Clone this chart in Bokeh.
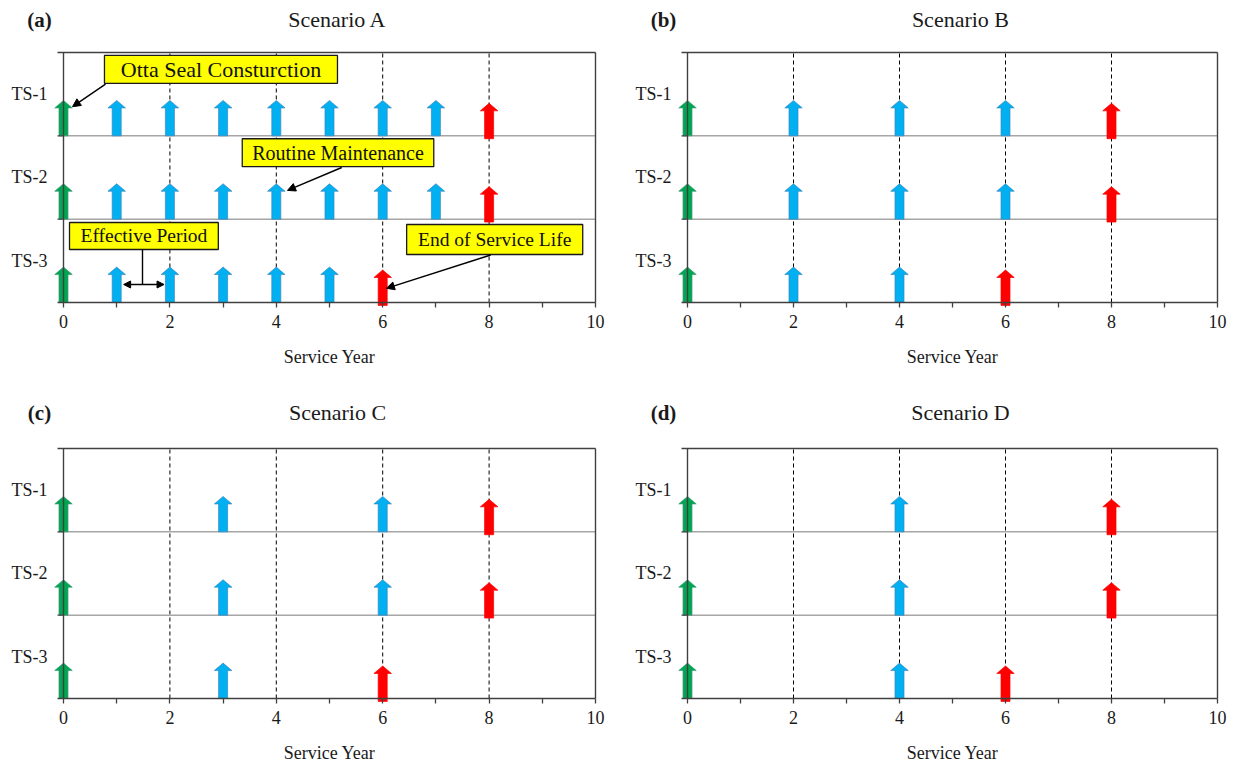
from bokeh.plotting import figure
from bokeh.layouts import gridplot
from bokeh.models import Range1d, FixedTicker, Arrow, NormalHead
from bokeh.core.properties import value
from bokeh.embed import file_html
from bokeh.resources import INLINE

# ---------------- data ----------------
row_labels = ["TS-1", "TS-2", "TS-3"]
row_base = [2, 1, 0]
label_pos = [2.5, 1.5, 0.5]
scenarios = ["Scenario A", "Scenario B", "Scenario C", "Scenario D"]
tags = ["(a)", "(b)", "(c)", "(d)"]
x_title = "Service Year"
construction_year = 0
maint_A = [[1, 2, 3, 4, 5, 6, 7], [1, 2, 3, 4, 5, 6, 7], [1, 2, 3, 4, 5]]
maint_B = [[2, 4, 6], [2, 4, 6], [2, 4]]
maint_C = [[3, 6], [3, 6], [3]]
maint_D = [[4], [4], [4]]
end_A = [8, 8, 6]
end_B = [8, 8, 6]
end_C = [8, 8, 6]
end_D = [8, 8, 6]
x_major = [0, 2, 4, 6, 8, 10]
x_minor = [1, 3, 5, 7, 9]
dashed_years = [2, 4, 6, 8]

# callouts of panel (a): text, box (x0, x1, y0, y1), arrow (start, end)
call_text = ["Otta Seal Consturction", "Routine Maintenance", "End of Service Life", "Effective Period"]
call_box = [(0.77, 5.15, 2.63, 2.965), (3.36, 6.96, 1.63, 1.965), (6.45, 9.76, 0.576, 0.936), (0.113, 2.91, 0.636, 0.96)]
call_size = ["22px", "20px", "19.5px", "19.5px"]
call_arrow = [((0.79, 2.62), (0.17, 2.35)), ((5.23, 1.62), (4.21, 1.345)), ((8.03, 0.57), (6.07, 0.17)), None]
eff_stem = ((1.485, 0.636), (1.485, 0.216))
eff_span = ((1.13, 0.216), (1.89, 0.216))

FONT = "Liberation Serif"
GREEN, BLUE, RED = "#00A651", "#00B0F0", "#FF0000"
SW, HW, NECK, TIP = 0.085, 0.165, 0.335, 0.425

# layout (pixels)
COL_W = [616, 612]
ROW_H = [393, 371]
TOP_PX = [52, 55]         # where the top of row TS-1 sits
TITLE_PX = [33, 36]       # title distance above the top line
TICK_STANDOFF = [8, 8]
XTITLE_PX = 55            # axis title distance below the bottom line
SPINE_PX = [63, 71]       # where year 0 sits inside each column's figure
PX_X = [53.2, 53.0]       # pixels per year
PX_Y = 83.33              # pixels per row


def arrow_poly(x, b):
    xs = [x - SW, x + SW, x + SW, x + HW, x, x - HW, x - SW]
    ys = [b, b, b + NECK, b + NECK, b + TIP, b + NECK, b + NECK]
    return xs, ys


def make_panel(i, maint, ends):
    c = i % 2
    r = i // 2
    W, H = COL_W[c], ROW_H[r]
    x0 = -SPINE_PX[c] / PX_X[c]
    x1 = (W - SPINE_PX[c]) / PX_X[c]
    y1 = 3 + TOP_PX[r] / PX_Y
    y0 = y1 - H / PX_Y
    p = figure(width=W, height=H, x_range=Range1d(x0, x1), y_range=Range1d(y0, y1),
               output_backend="svg", toolbar_location=None, tools="",
               y_axis_location=None,
               min_border_left=0, min_border_right=0, min_border_top=0,
               min_border_bottom=0)
    p.outline_line_color = None
    p.background_fill_color = "white"
    p.border_fill_color = "white"
    p.xgrid.grid_line_color = None
    p.ygrid.grid_line_color = None

    # x axis, drawn at year-line 0
    p.xaxis.fixed_location = 0
    p.xaxis.ticker = FixedTicker(ticks=x_major, minor_ticks=x_minor)
    p.xaxis.axis_line_color = None
    p.xaxis.major_tick_out = 5
    p.xaxis.major_tick_in = 0
    p.xaxis.minor_tick_out = 5
    p.xaxis.minor_tick_in = 0
    p.xaxis.major_tick_line_color = "#404040"
    p.xaxis.minor_tick_line_color = "#404040"
    p.xaxis.major_tick_line_width = 1.3
    p.xaxis.minor_tick_line_width = 1.3
    p.xaxis.major_label_text_font = FONT
    p.xaxis.major_label_text_font_size = "18px"
    p.xaxis.major_label_text_color = "#1a1a1a"
    p.xaxis.major_label_standoff = TICK_STANDOFF[r]
    p.text(x=[(x_major[0] + x_major[-1]) / 2], y=[-XTITLE_PX / PX_Y], text=[x_title],
           text_align="center", text_baseline="middle", text_font=value(FONT),
           text_font_size=value("18px"), text_color="#1a1a1a")

    # dashed year lines
    p.segment(x0=dashed_years, y0=[0] * len(dashed_years), x1=dashed_years,
              y1=[3] * len(dashed_years), line_color="black", line_width=1, line_dash="4 3")

    # row separators
    p.segment(x0=[0, 0], y0=row_base[:2], x1=[10, 10], y1=row_base[:2],
              line_color="#a6a6a6", line_width=1.5)

    # block arrows
    xs_l, ys_l, fills, lines = [], [], [], []
    for k in range(3):
        b = row_base[k]
        xs, ys = arrow_poly(construction_year, b)
        xs_l.append(xs); ys_l.append(ys); fills.append(GREEN); lines.append("#3f9a7a")
        for yr in maint[k]:
            xs, ys = arrow_poly(yr, b)
            xs_l.append(xs); ys_l.append(ys); fills.append(BLUE); lines.append("#3d86c0")
        xs, ys = arrow_poly(ends[k], b - 0.035)
        xs_l.append(xs); ys_l.append(ys); fills.append(RED); lines.append(RED)
    p.patches(xs=xs_l, ys=ys_l, fill_color=fills, line_color=lines, line_width=0.7)

    # frame lines and row ticks
    tk = -6 / PX_X[c]
    p.segment(x0=[0, tk, 10, tk, tk, tk],
              y0=[0, 3, 0, 0, 1, 2],
              x1=[0, 10, 10, 10, 0, 0],
              y1=[3, 3, 3, 0, 1, 2],
              line_color="#404040", line_width=1.4)

    # row labels
    p.text(x=[-16 / PX_X[c]] * 3, y=label_pos, text=row_labels, text_align="right",
           text_baseline="middle", text_font=value(FONT), text_font_size=value("18px"),
           text_color="#1a1a1a")

    # titles
    ty = 3 + TITLE_PX[r] / PX_Y
    p.text(x=[5.15], y=[ty], text=[scenarios[i]], text_align="center", text_baseline="middle",
           text_font=value(FONT), text_font_size=value("22px"), text_color="#1a1a1a")
    p.text(x=[-24 / PX_X[c]], y=[ty], text=[tags[i]], text_align="center", text_baseline="middle",
           text_font=value(FONT), text_font_size=value("21px"), text_font_style="bold",
           text_color="#1a1a1a")
    return p


def add_callouts(p):
    for k in range(4):
        bx0, bx1, by0, by1 = call_box[k]
        p.quad(left=[bx0], right=[bx1], bottom=[by0], top=[by1], fill_color="#FFFF00",
               line_color="#1a1a1a", line_width=1.3)
        p.text(x=[(bx0 + bx1) / 2], y=[(by0 + by1) / 2], text=[call_text[k]],
               text_align="center", text_baseline="middle", text_font=value(FONT),
               text_font_size=value(call_size[k]), text_color="#111111")
        if call_arrow[k] is not None:
            (sx, sy), (ex, ey) = call_arrow[k]
            p.add_layout(Arrow(x_start=sx, y_start=sy, x_end=ex, y_end=ey, line_width=1.4,
                               line_color="black",
                               end=NormalHead(size=8, fill_color="black", line_color="black")))
    (a, b), (c, d) = eff_stem
    p.segment(x0=[a], y0=[b], x1=[c], y1=[d], line_color="black", line_width=1.4)
    (a, b), (c, d) = eff_span
    p.add_layout(Arrow(x_start=a, y_start=b, x_end=c, y_end=d, line_width=1.4, line_color="black",
                       start=NormalHead(size=7, fill_color="black", line_color="black"),
                       end=NormalHead(size=7, fill_color="black", line_color="black")))


pa = make_panel(0, maint_A, end_A)
add_callouts(pa)
pb = make_panel(1, maint_B, end_B)
pc = make_panel(2, maint_C, end_C)
pd = make_panel(3, maint_D, end_D)

grid = gridplot([[pa, pb], [pc, pd]], toolbar_location=None)
open("out.html", "w").write(file_html(grid, INLINE))
